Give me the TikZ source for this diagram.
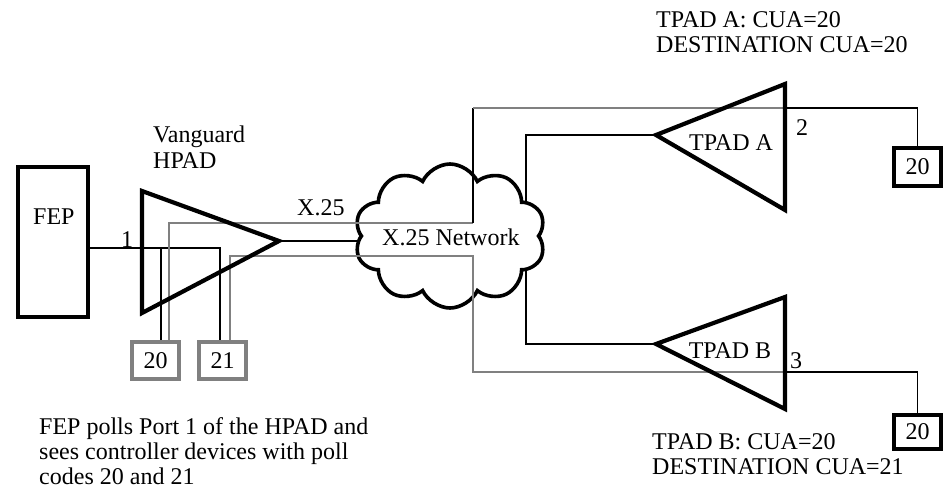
\documentclass[tikz,border=0pt]{standalone}
\usepackage{fontspec}
\setmainfont{Liberation Serif}
\usetikzlibrary{shapes.symbols}
\definecolor{wiregray}{RGB}{128,128,128}
\begin{document}
\begin{tikzpicture}[x=1pt,y=-1pt,
  lbl/.style={inner sep=0pt, anchor=base west, font=\fontsize{24}{26}\selectfont},
  clbl/.style={inner sep=0pt, anchor=base, font=\fontsize{24}{26}\selectfont},
  wire/.style={line width=1.6pt, black},
  gwire/.style={line width=1.7pt, wiregray},
  tri/.style={draw, line width=4.2pt, line join=miter},
  devbox/.style={draw, line width=4pt, inner sep=0pt, minimum width=47pt,
                 font=\fontsize{24}{26}\selectfont},
  netcloud/.style={cloud, draw, fill=white, line width=3.6pt, cloud puffs=10,
                   cloud puff arc=130, minimum width=191pt, minimum height=144pt,
                   inner sep=0pt}]
\useasboundingbox (0,0) rectangle (948,493);

% ---- junction and corner points ----
\coordinate (hTL) at (142,191);
\coordinate (hBL) at (142,313);
\coordinate (hTip) at (279,241);
\coordinate (aTip) at (656,135);
\coordinate (aTR) at (785,84);
\coordinate (aBR) at (785,210);
\coordinate (bTip) at (656,344);
\coordinate (bTR) at (785,297);
\coordinate (bBR) at (785,409);
\coordinate (nA) at (526,135);
\coordinate (nB) at (526,344);

% ---- front end processor and terminal boxes ----
\node[draw, line width=4.5pt, minimum width=70pt, minimum height=150pt, inner sep=0pt] (fep) at (53,242) {};
\node[lbl] (feplbl) at (33,224) {FEP};

\node[devbox, draw=wiregray, minimum height=37pt] (b20) at (155.5,360.5) {20};
\node[devbox, draw=wiregray, minimum height=37pt] (b21) at (222.5,360.5) {21};
\node[devbox, minimum height=38pt] (bA) at (917.5,167) {20};
\node[devbox, minimum height=34pt] (bB) at (917.5,432) {20};

% ---- links that end at the network cloud (drawn beneath it) ----
\draw[wire] (hTip) -- (hTip -| 450,236);
\draw[wire] (aTip) -- (nA) -- (nA |- 450,236);
\draw[wire] (bTip) -- (nB) -- (nB |- 450,236);

% ---- X.25 network ----
\node[netcloud] (net) at (450,236) {};

% ---- port 1 polling line and drops ----
\coordinate (j20) at (161,248);
\coordinate (j21) at (220,248);
\draw[wire] (fep.east |- j20) -- (j21) -- (j21 |- b21.north);
\draw[wire] (j20) -- (j20 |- b20.north);

% ---- virtual circuit for device 20 ----
\coordinate (g20) at (169,223);
\coordinate (gUp) at (473,223);
\coordinate (gTop) at (473,108);
\coordinate (aR) at (785,108);
\draw[gwire] (b20.north -| g20) -- (g20) -- (gUp);
\draw[wire] (gUp) -- (gTop);
\draw[gwire] (gTop) -- (aR);
\draw[wire] (aR) -| (bA.north);

% ---- virtual circuit for device 21 ----
\coordinate (g21) at (230,256);
\coordinate (gD1) at (473,256);
\coordinate (gD2) at (473,372);
\coordinate (bR) at (785,372);
\draw[gwire] (b21.north -| g21) -- (g21) -- (gD1) -- (gD2) -- (bR);
\draw[wire] (bR) -| (bB.north);

% ---- PAD triangles ----
\draw[tri] (hTL) -- (hTip) -- (hBL) -- cycle;
\draw[tri] (aTip) -- (aTR) -- (aBR) -- cycle;
\draw[tri] (bTip) -- (bTR) -- (bBR) -- cycle;

% ---- labels ----
\node[lbl] (hpad1) at (153,142) {Vanguard};
\node[lbl] (hpad2) at (153,168) {HPAD};
\node[clbl] (port1) at (127,247) {1};
\node[lbl] (x25) at (297,215) {X.25};
\node[lbl] (netlbl) at (382,245) {X.25 Network};
\node[clbl] (tpadA) at (731,150) {TPAD A};
\node[clbl] (tpadB) at (730,358) {TPAD B};
\node[clbl] (port2) at (802,135) {2};
\node[clbl] (port3) at (796,368) {3};
\node[lbl] (cuaA1) at (656,27) {TPAD A: CUA=20};
\node[lbl] (cuaA2) at (656,52) {DESTINATION CUA=20};
\node[lbl] (cuaB1) at (652,449) {TPAD B: CUA=20};
\node[lbl] (cuaB2) at (652,474) {DESTINATION CUA=21};
\node[lbl] (note1) at (39,434) {FEP polls Port 1 of the HPAD and};
\node[lbl] (note2) at (39,459) {sees controller devices with poll};
\node[lbl] (note3) at (39,484) {codes 20 and 21};
\end{tikzpicture}
\end{document}
